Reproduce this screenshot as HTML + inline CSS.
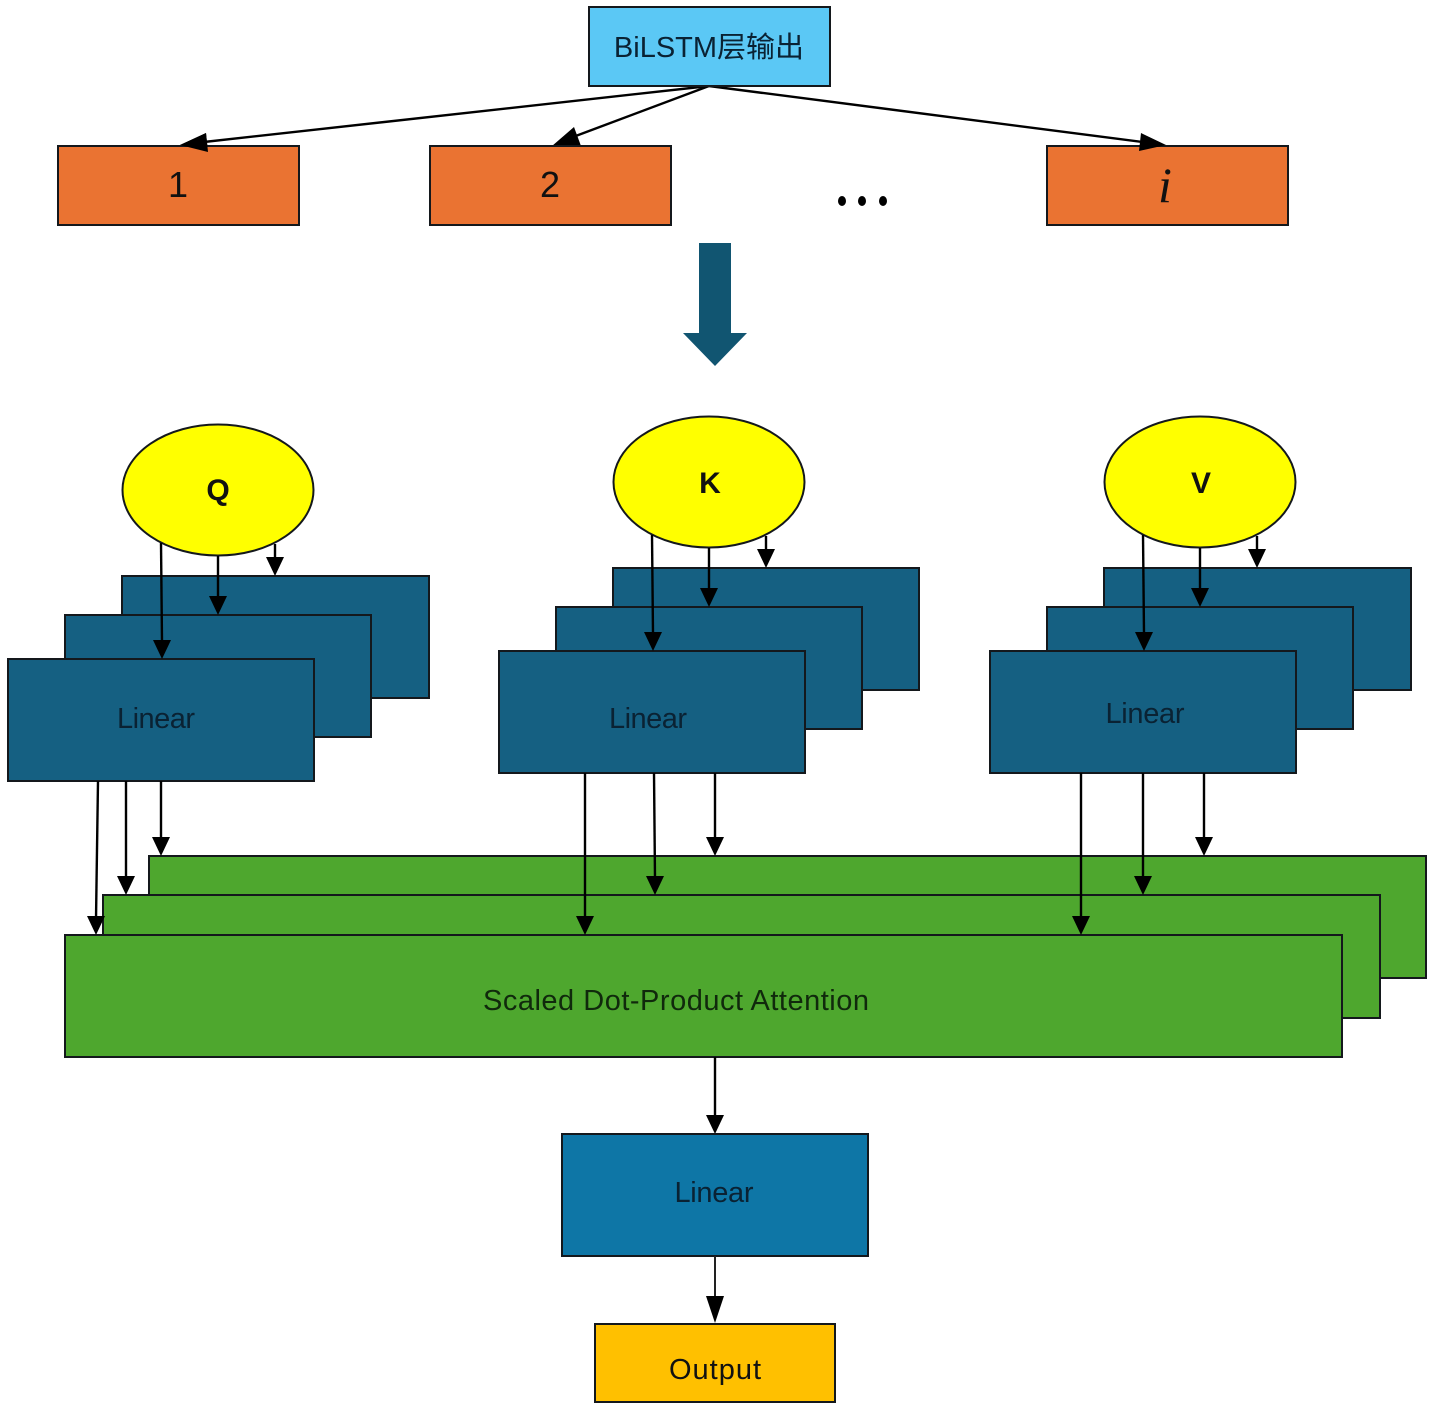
<!DOCTYPE html>
<html>
<head>
<meta charset="utf-8">
<style>
html,body{margin:0;padding:0;background:#fff;}
svg{display:block;}
text{font-family:"Liberation Sans","Noto Sans CJK SC",sans-serif;fill:#111;text-anchor:middle;}
.r{stroke:#14181c;stroke-width:2;}
.l{stroke:#000;stroke-width:2.4;fill:none;}
.a{fill:#000;}
.tb{fill:#0a2233;}
.tg{fill:#10290c;}
</style>
</head>
<body>
<svg width="1430" height="1408" viewBox="0 0 1430 1408" xmlns="http://www.w3.org/2000/svg">
<line class="l" x1="709" y1="86" x2="195" y2="143"/><polygon class="a" points="180,145 206,133 208,152"/>
<line class="l" x1="709" y1="86" x2="565" y2="140"/><polygon class="a" points="552,146 574,127 581,146"/>
<line class="l" x1="709" y1="86" x2="1150" y2="143"/>
<rect class="r" x="589" y="7" width="241" height="79" fill="#5bc8f5"/>
<text class="tb" x="709" y="57" font-size="29">BiLSTM层输出</text>
<rect class="r" x="58" y="146" width="241" height="79" fill="#ea7332"/>
<rect class="r" x="430" y="146" width="241" height="79" fill="#ea7332"/>
<rect class="r" x="1047" y="146" width="241" height="79" fill="#ea7332"/>
<polygon class="a" points="180,145 206,133 208,152"/>
<polygon class="a" points="1166,145 1141,133 1139,151"/>
<text x="178" y="197" font-size="36">1</text>
<text x="550" y="197" font-size="36">2</text>
<text x="1165" y="202" font-size="50" font-style="italic" style="font-family:'Liberation Serif',serif">i</text>
<ellipse cx="842" cy="201" rx="4" ry="5"/><ellipse cx="862" cy="201" rx="4" ry="5"/><ellipse cx="883" cy="201" rx="4" ry="5"/>
<polygon points="699,243 731,243 731,333 747,333 715,366 683,333 699,333" fill="#115571"/>

<rect class="r" x="122" y="576" width="307" height="122" fill="#156082"/>
<rect class="r" x="65" y="615" width="306" height="122" fill="#156082"/>
<rect class="r" x="8" y="659" width="306" height="122" fill="#156082"/>
<text class="tb" x="156" y="728" font-size="29" textLength="78" lengthAdjust="spacing">Linear</text>
<rect class="r" x="613" y="568" width="306" height="122" fill="#156082"/>
<rect class="r" x="556" y="607" width="306" height="122" fill="#156082"/>
<rect class="r" x="499" y="651" width="306" height="122" fill="#156082"/>
<text class="tb" x="648" y="728" font-size="29" textLength="78" lengthAdjust="spacing">Linear</text>
<rect class="r" x="1104" y="568" width="307" height="122" fill="#156082"/>
<rect class="r" x="1047" y="607" width="306" height="122" fill="#156082"/>
<rect class="r" x="990" y="651" width="306" height="122" fill="#156082"/>
<text class="tb" x="1145" y="723" font-size="29" textLength="79" lengthAdjust="spacing">Linear</text>

<ellipse class="r" cx="218" cy="490" rx="95.500" ry="65.500" fill="#ffff00"/>
<ellipse class="r" cx="709" cy="482" rx="95.500" ry="65.500" fill="#ffff00"/>
<ellipse class="r" cx="1200" cy="482" rx="95.500" ry="65.500" fill="#ffff00"/>
<text x="218" y="500" font-size="30" font-weight="bold">Q</text>
<text x="710" y="493" font-size="30" font-weight="bold">K</text>
<text x="1201" y="493" font-size="30" font-weight="bold">V</text>

<g>
<line class="l" x1="275" y1="544" x2="275" y2="560"/><polygon class="a" points="275,576 266,557 284,557"/>
<line class="l" x1="218" y1="556" x2="218" y2="598"/><polygon class="a" points="218,615 209,596 227,596"/>
<line class="l" x1="161" y1="543" x2="162" y2="642"/><polygon class="a" points="162,659 153,640 171,640"/>
<line class="l" x1="766" y1="536" x2="766" y2="552"/><polygon class="a" points="766,568 757,549 775,549"/>
<line class="l" x1="709" y1="548" x2="709" y2="590"/><polygon class="a" points="709,607 700,588 718,588"/>
<line class="l" x1="652" y1="535" x2="653" y2="634"/><polygon class="a" points="653,651 644,632 662,632"/>
<line class="l" x1="1257" y1="536" x2="1257" y2="552"/><polygon class="a" points="1257,568 1248,549 1266,549"/>
<line class="l" x1="1200" y1="548" x2="1200" y2="590"/><polygon class="a" points="1200,607 1191,588 1209,588"/>
<line class="l" x1="1143" y1="535" x2="1144" y2="634"/><polygon class="a" points="1144,651 1135,632 1153,632"/>
</g>

<rect class="r" x="149" y="856" width="1277" height="122" fill="#4ea72e"/>
<rect class="r" x="103" y="895" width="1277" height="123" fill="#4ea72e"/>
<rect class="r" x="65" y="935" width="1277" height="122" fill="#4ea72e"/>
<text class="tg" x="676" y="1010" font-size="29" textLength="386" lengthAdjust="spacing">Scaled Dot-Product Attention</text>

<line class="l" x1="161" y1="781" x2="161" y2="840"/><polygon class="a" points="161,856 152,837 170,837"/>
<line class="l" x1="126" y1="781" x2="126" y2="879"/><polygon class="a" points="126,895 117,876 135,876"/>
<line class="l" x1="98" y1="781" x2="96" y2="919"/><polygon class="a" points="96,935 87,916 105,916"/>
<line class="l" x1="715" y1="773" x2="715" y2="840"/><polygon class="a" points="715,856 706,837 724,837"/>
<line class="l" x1="654" y1="773" x2="655" y2="879"/><polygon class="a" points="655,895 646,876 664,876"/>
<line class="l" x1="585" y1="773" x2="585" y2="919"/><polygon class="a" points="585,935 576,916 594,916"/>
<line class="l" x1="1204" y1="773" x2="1204" y2="840"/><polygon class="a" points="1204,856 1195,837 1213,837"/>
<line class="l" x1="1143" y1="773" x2="1143" y2="879"/><polygon class="a" points="1143,895 1134,876 1152,876"/>
<line class="l" x1="1081" y1="773" x2="1081" y2="919"/><polygon class="a" points="1081,935 1072,916 1090,916"/>

<line class="l" x1="715" y1="1057" x2="715" y2="1117"/><polygon class="a" points="715,1134 706,1115 724,1115"/>
<rect class="r" x="562" y="1134" width="306" height="122" fill="#0e76a6"/>
<text class="tb" x="714" y="1202" font-size="29" textLength="79" lengthAdjust="spacing">Linear</text>
<line x1="715" y1="1256" x2="715" y2="1300" stroke="#222" stroke-width="2"/><polygon class="a" points="715,1323 706,1296 724,1296"/>
<rect class="r" x="595" y="1324" width="240" height="78" fill="#ffc000"/>
<text x="715" y="1379" font-size="29" textLength="92" lengthAdjust="spacing">Output</text>
</svg>
</body>
</html>
